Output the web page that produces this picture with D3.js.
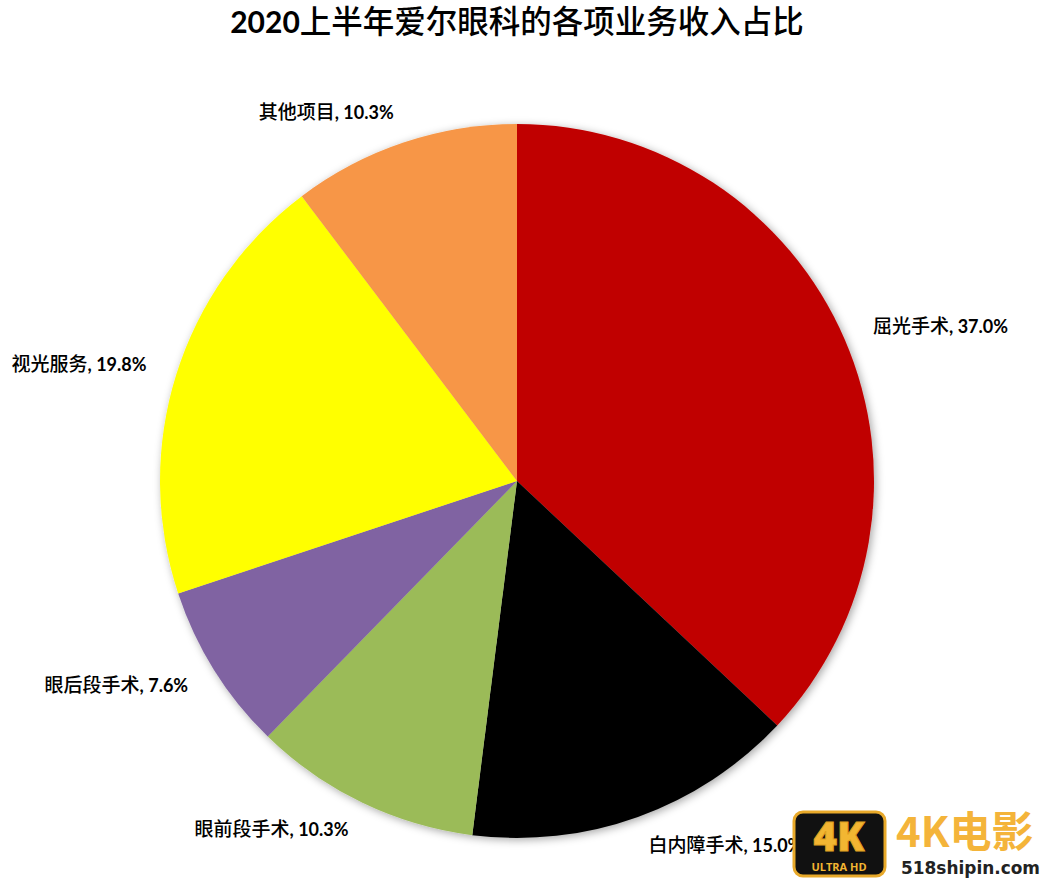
<!DOCTYPE html>
<html><head><meta charset="utf-8">
<script src="https://cdn.jsdelivr.net/npm/d3@7"></script>
<style>body{margin:0;background:#fff}svg{display:block}</style>
</head><body>
<script>
const categories = ["屈光手术","白内障手术","眼前段手术","眼后段手术","视光服务","其他项目"];
const values = [37.0,15.0,10.3,7.6,19.8,10.3];
const colors = ["#C00000","#000000","#9BBB59","#8064A2","#FFFF00","#F79646"];
const titleNum = "2020";
const titleText = "上半年爱尔眼科的各项业务收入占比";

const W=1057,H=881,cx=517,cy=481,R=357,LR=388;
const svg=d3.select("body").append("svg").attr("width",W).attr("height",H);
const defs=svg.append("defs");
const f=defs.append("filter").attr("id","sh").attr("x","-20%").attr("y","-20%").attr("width","140%").attr("height","140%");
f.append("feDropShadow").attr("dx",2).attr("dy",2).attr("stdDeviation",4).attr("flood-color","#000").attr("flood-opacity",0.35);

const data=categories.map((c,i)=>({c,v:values[i],col:colors[i]}));
const pie=d3.pie().value(d=>d.v).sort(null);
const arc=d3.arc().innerRadius(0).outerRadius(R);
const arcs=pie(data);
const g=svg.append("g").attr("transform",`translate(${cx},${cy})`);
g.append("g").attr("filter","url(#sh)").selectAll("path").data(arcs).join("path")
 .attr("d",arc).attr("fill",d=>d.data.col);

const lg=g.append("g");
arcs.forEach(a=>{
  const m=(a.startAngle+a.endAngle)/2;
  const x=LR*Math.sin(m), y=-LR*Math.cos(m);
  const t=lg.append("text").attr("x",x).attr("y",y).attr("dy","0.35em")
    .attr("text-anchor",x>0?"start":"end").attr("fill","#000");
  t.append("tspan").attr("font-family","'Noto Sans CJK SC'").attr("font-size",19).attr("font-weight",500).text(a.data.c);
  t.append("tspan").attr("font-family","Lato, 'Noto Sans'").attr("font-size",18).attr("font-weight","bold").text(", "+d3.format(".1f")(a.data.v)+"%");
});

const tt=svg.append("text").attr("x",517).attr("y",27).attr("dy","0.35em").attr("text-anchor","middle").attr("fill","#000");
tt.append("tspan").attr("font-family","Lato, 'Noto Sans'").attr("font-weight","bold").attr("font-size",30).text(titleNum);
tt.append("tspan").attr("font-family","'Noto Sans CJK SC'").attr("font-weight",500).attr("font-size",31.5).text(titleText);

// watermark
const wm=svg.append("g");
wm.append("rect").attr("x",794).attr("y",812).attr("width",91).attr("height",64).attr("rx",9)
 .attr("fill","#111").attr("stroke","#E8A92A").attr("stroke-width",3);
wm.append("text").attr("x",839).attr("y",851).attr("text-anchor","middle").attr("font-family","'Open Sans', sans-serif")
 .attr("font-weight","900").attr("font-size",40).attr("fill","#F2B632").attr("stroke","#E0A020").attr("stroke-width",1).text("4K");
wm.append("text").attr("x",839).attr("y",871).attr("text-anchor","middle").attr("font-family","'Open Sans', sans-serif")
 .attr("font-weight","bold").attr("font-size",11).attr("fill","#F2B632").text("ULTRA HD");
wm.append("text").attr("x",896).attr("y",847).attr("font-family","'Noto Sans CJK SC'").attr("font-weight","bold")
 .attr("font-size",42).attr("fill","#F4B43A").text("4K电影");
wm.append("text").attr("x",901).attr("y",874).attr("font-family","'DejaVu Sans', sans-serif").attr("font-weight","bold")
 .attr("font-size",17).attr("textLength",139).attr("lengthAdjust","spacingAndGlyphs").attr("fill","#222").text("518shipin.com");
</script>
</body></html>
